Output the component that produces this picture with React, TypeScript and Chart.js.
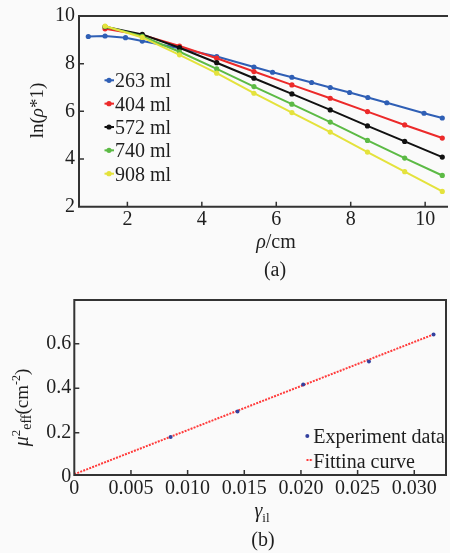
import React, { useEffect, useRef } from "react";
import { Chart, registerables } from "chart.js";

Chart.register(...registerables);

// ---------- Data: panel (a) ----------
const rho263 = [0.95, 1.4, 1.95, 2.4, 3.4, 4.4, 5.4, 5.9, 6.42, 6.95, 7.45, 7.97, 8.46, 8.97, 9.97, 10.46];
const ln263 = [9.14, 9.16, 9.09, 8.95, 8.65, 8.3, 7.86, 7.64, 7.43, 7.21, 7.0, 6.79, 6.58, 6.36, 5.92, 5.72];
const rhoOther = [1.4, 2.4, 3.4, 4.4, 5.4, 6.42, 7.45, 8.45, 9.45, 10.46];
const ln404 = [9.46, 9.2, 8.74, 8.23, 7.67, 7.11, 6.55, 5.99, 5.43, 4.88];
const ln572 = [9.55, 9.23, 8.67, 8.04, 7.39, 6.73, 6.06, 5.39, 4.74, 4.08];
const ln740 = [9.56, 9.15, 8.5, 7.78, 7.04, 6.3, 5.55, 4.78, 4.04, 3.31];
const ln908 = [9.58, 9.1, 8.37, 7.6, 6.76, 5.95, 5.13, 4.29, 3.47, 2.64];
const seriesNamesA = ["263 ml", "404 ml", "572 ml", "740 ml", "908 ml"];
const xTicksA = [2, 4, 6, 8, 10];
const yTicksA = [2, 4, 6, 8, 10];

// ---------- Data: panel (b) ----------
const gammaIl = [0.0085, 0.0144, 0.0202, 0.026, 0.0317];
const mu2eff = [0.18, 0.295, 0.417, 0.52, 0.642];
const fitGamma = [0, 0.0317];
const fitMu = [0.013, 0.642];
const xTicksB = [0, 0.005, 0.01, 0.015, 0.02, 0.025, 0.03];
const yTicksB = [0, 0.2, 0.4, 0.6];
const seriesNamesB = ["Experiment data", "Fittina curve"];

// ---------- Styles ----------
const SERIF = '"Liberation Serif", "Times New Roman", serif';
const TXT = "#1e1e1e";
const AXIS = "#333333";
const BG = "#fafafa";
const colorsA = ["#2f5fb5", "#ec2a2a", "#111111", "#5cba45", "#e4e23c"];
const COLOR_PTS_B = "#33409e";
const COLOR_FIT_B = "#ff3b3b";

type Seg = { t: string; s: number; it?: boolean; dy?: number };
const fnt = (g: Seg) => `${g.it ? "italic " : ""}${g.s}px ${SERIF}`;

function drawRich(ctx: CanvasRenderingContext2D, segs: Seg[], cx: number, by: number, rot = 0) {
  ctx.save();
  ctx.translate(cx, by);
  if (rot) ctx.rotate(rot);
  ctx.fillStyle = TXT;
  ctx.textBaseline = "alphabetic";
  ctx.textAlign = "left";
  const ws = segs.map((g) => {
    ctx.font = fnt(g);
    return ctx.measureText(g.t).width;
  });
  const total = ws.reduce((a, b) => a + b, 0);
  let x = -total / 2;
  segs.forEach((g, i) => {
    ctx.font = fnt(g);
    ctx.fillText(g.t, x, g.dy || 0);
    x += ws[i];
  });
  ctx.restore();
}

function drawInwardTicks(chart: any) {
  const { ctx, chartArea: ca, scales } = chart;
  ctx.save();
  ctx.strokeStyle = AXIS;
  ctx.lineWidth = 1.5;
  ctx.beginPath();
  scales.x.ticks.forEach((t: any) => {
    const px = scales.x.getPixelForValue(t.value);
    if (px < ca.left + 1 || px > ca.right - 1) return;
    ctx.moveTo(px, ca.bottom);
    ctx.lineTo(px, ca.bottom - 5);
  });
  scales.y.ticks.forEach((t: any) => {
    const py = scales.y.getPixelForValue(t.value);
    if (py < ca.top + 1 || py > ca.bottom - 1) return;
    ctx.moveTo(ca.left, py);
    ctx.lineTo(ca.left + 5, py);
  });
  ctx.stroke();
  ctx.restore();
}

const tickFont = { family: SERIF, size: 20 };

const decorA = {
  id: "decorA",
  afterDraw(chart: any) {
    const { ctx, chartArea: ca } = chart;
    ctx.save();
    ctx.strokeStyle = AXIS;
    ctx.lineWidth = 2;
    ctx.beginPath();
    ctx.moveTo(ca.right + 2, ca.top);
    ctx.lineTo(ca.left, ca.top);
    ctx.lineTo(ca.left, ca.bottom);
    ctx.lineTo(ca.right + 2, ca.bottom);
    ctx.stroke();
    ctx.restore();
    drawInwardTicks(chart);

    // legend
    seriesNamesA.forEach((name, i) => {
      const base = 87.3 + i * 23.35;
      const my = base - 7;
      const c = colorsA[i];
      ctx.save();
      ctx.strokeStyle = c;
      ctx.fillStyle = c;
      ctx.lineWidth = 2;
      ctx.beginPath();
      ctx.moveTo(104.5, my);
      ctx.lineTo(114, my);
      ctx.stroke();
      ctx.beginPath();
      ctx.arc(109, my, 2.6, 0, Math.PI * 2);
      ctx.fill();
      ctx.fillStyle = TXT;
      ctx.font = `20px ${SERIF}`;
      ctx.textBaseline = "alphabetic";
      ctx.textAlign = "left";
      ctx.fillText(name, 115, base);
      ctx.restore();
    });

    // axis titles and caption
    drawRich(ctx, [{ t: "ρ", s: 20, it: true }, { t: "/cm", s: 20 }], 276, 248);
    drawRich(ctx, [{ t: "(a)", s: 20 }], 275, 276.4);
    drawRich(
      ctx,
      [{ t: "ln(", s: 19 }, { t: "ρ", s: 19, it: true }, { t: "*1)", s: 19 }],
      43.3,
      110.5,
      -Math.PI / 2
    );
  },
};

const decorB = {
  id: "decorB",
  afterDraw(chart: any) {
    const { ctx, chartArea: ca } = chart;
    ctx.save();
    ctx.strokeStyle = AXIS;
    ctx.lineWidth = 2;
    ctx.strokeRect(ca.left, ca.top, ca.right - ca.left, ca.bottom - ca.top);
    ctx.restore();
    drawInwardTicks(chart);

    // legend
    ctx.save();
    ctx.fillStyle = COLOR_PTS_B;
    ctx.beginPath();
    ctx.arc(307.3, 151, 2, 0, Math.PI * 2);
    ctx.fill();
    ctx.strokeStyle = COLOR_FIT_B;
    ctx.lineWidth = 2;
    ctx.setLineDash([2, 1.2]);
    ctx.beginPath();
    ctx.moveTo(306.5, 175);
    ctx.lineTo(313, 175);
    ctx.stroke();
    ctx.setLineDash([]);
    ctx.fillStyle = TXT;
    ctx.font = `20px ${SERIF}`;
    ctx.textBaseline = "alphabetic";
    ctx.textAlign = "left";
    ctx.fillText(seriesNamesB[0], 313.3, 158);
    ctx.fillText(seriesNamesB[1], 313.3, 183.3);
    ctx.restore();

    // titles
    drawRich(ctx, [{ t: "γ", s: 20, it: true }, { t: "il", s: 13, dy: 5 }], 262, 232);
    drawRich(ctx, [{ t: "(b)", s: 20 }], 263, 261.4);
    drawRich(
      ctx,
      [
        { t: "μ", s: 20, it: true },
        { t: "2", s: 13, dy: -8 },
        { t: "eff", s: 14, dy: 3 },
        { t: "(cm", s: 19 },
        { t: "-2", s: 12, dy: -8 },
        { t: ")", s: 19 },
      ],
      28,
      122.5,
      -Math.PI / 2
    );
  },
};

function makeCfgA(): any {
  const xs = [rho263, rhoOther, rhoOther, rhoOther, rhoOther];
  const ys = [ln263, ln404, ln572, ln740, ln908];
  return {
    type: "scatter",
    data: {
      datasets: ys.map((yv, i) => ({
        label: seriesNamesA[i],
        data: yv.map((y, j) => ({ x: xs[i][j], y })),
        showLine: true,
        borderColor: colorsA[i],
        backgroundColor: colorsA[i],
        borderWidth: 2,
        pointRadius: 2.6,
        pointBorderWidth: 0,
        order: 4 - i,
      })),
    },
    options: {
      responsive: false,
      animation: false,
      layout: { padding: { top: 16, left: 0, right: 0, bottom: 0 } },
      plugins: { legend: { display: false }, tooltip: { enabled: false } },
      scales: {
        x: {
          type: "linear",
          min: 0.7,
          max: 10.56,
          afterBuildTicks: (s: any) => {
            s.ticks = xTicksA.map((v) => ({ value: v }));
          },
          afterFit: (s: any) => {
            s.height = 78.3;
          },
          grid: { display: false, drawTicks: false },
          border: { display: false },
          ticks: { font: tickFont, color: TXT, padding: 1, autoSkip: false, maxRotation: 0 },
        },
        y: {
          type: "linear",
          min: 2,
          max: 10,
          afterBuildTicks: (s: any) => {
            s.ticks = yTicksA.map((v) => ({ value: v }));
          },
          afterFit: (s: any) => {
            s.width = 79;
          },
          grid: { display: false, drawTicks: false },
          border: { display: false },
          ticks: { font: tickFont, color: TXT, padding: 4, autoSkip: false },
        },
      },
    },
    plugins: [decorA],
  };
}

function makeCfgB(): any {
  return {
    type: "scatter",
    data: {
      datasets: [
        {
          label: seriesNamesB[0],
          data: gammaIl.map((x, i) => ({ x, y: mu2eff[i] })),
          backgroundColor: COLOR_PTS_B,
          borderColor: COLOR_PTS_B,
          pointRadius: 2,
          pointBorderWidth: 0,
          order: 0,
        },
        {
          label: seriesNamesB[1],
          type: "line",
          data: fitGamma.map((x, i) => ({ x, y: fitMu[i] })),
          borderColor: COLOR_FIT_B,
          borderWidth: 2,
          borderDash: [2, 1.2],
          pointRadius: 0,
          fill: false,
          order: 1,
        },
      ],
    },
    options: {
      responsive: false,
      animation: false,
      layout: { padding: { top: 8.3, left: 0, right: 3.3, bottom: 0 } },
      plugins: { legend: { display: false }, tooltip: { enabled: false } },
      scales: {
        x: {
          type: "linear",
          min: 0,
          max: 0.0328,
          afterBuildTicks: (s: any) => {
            s.ticks = xTicksB.map((v) => ({ value: v }));
          },
          afterFit: (s: any) => {
            s.height = 78;
          },
          grid: { display: false, drawTicks: false },
          border: { display: false },
          ticks: {
            font: tickFont,
            color: TXT,
            padding: 2,
            autoSkip: false,
            maxRotation: 0,
            callback: (v: any) => (Number(v) === 0 ? "0" : Number(v).toFixed(3)),
          },
        },
        y: {
          type: "linear",
          min: 0.0095,
          max: 0.797,
          afterBuildTicks: (s: any) => {
            s.ticks = yTicksB.map((v) => ({ value: v }));
          },
          afterFit: (s: any) => {
            s.width = 74.3;
          },
          grid: { display: false, drawTicks: false },
          border: { display: false },
          ticks: {
            font: tickFont,
            color: TXT,
            padding: 3,
            autoSkip: false,
            callback: (v: any) => (Number(v) === 0 ? "0" : Number(v).toFixed(1)),
          },
        },
      },
    },
    plugins: [decorB],
  };
}

export default function App() {
  const refA = useRef<HTMLCanvasElement>(null);
  const refB = useRef<HTMLCanvasElement>(null);
  useEffect(() => {
    const a = new Chart(refA.current as HTMLCanvasElement, makeCfgA());
    const b = new Chart(refB.current as HTMLCanvasElement, makeCfgB());
    return () => {
      a.destroy();
      b.destroy();
    };
  }, []);
  return (
    <div
      style={{
        position: "fixed",
        left: 0,
        top: 0,
        width: 450,
        height: 553,
        background: BG,
        overflow: "hidden",
      }}
    >
      <canvas ref={refA} width={450} height={285} style={{ position: "absolute", left: 0, top: 0 }} />
      <canvas ref={refB} width={450} height={268} style={{ position: "absolute", left: 0, top: 285 }} />
    </div>
  );
}
